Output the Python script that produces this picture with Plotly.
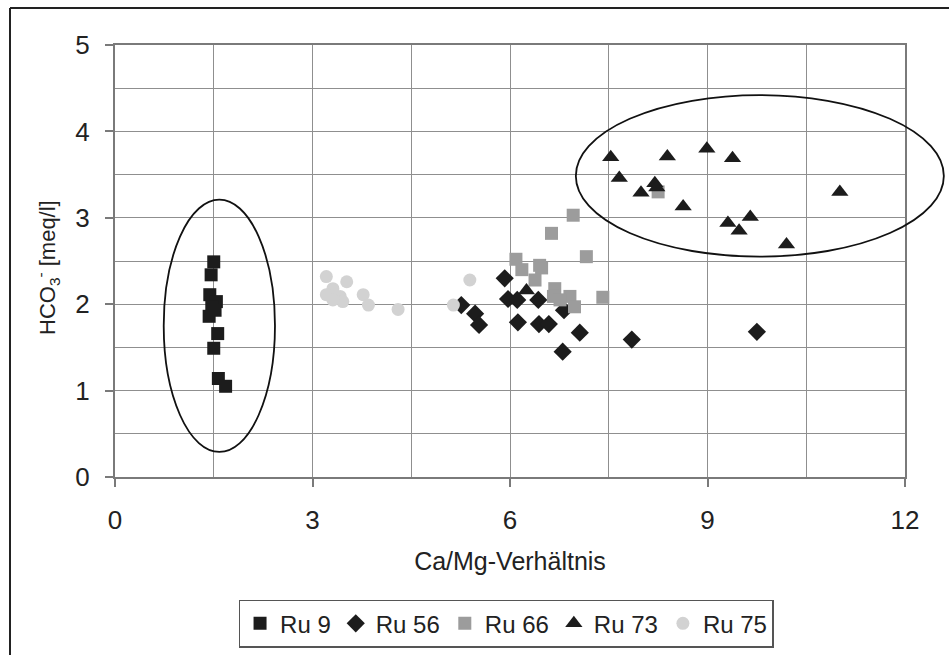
import plotly.graph_objects as go

# ---------------- data ----------------
x_ru9 = [1.50, 1.46, 1.44, 1.54, 1.47, 1.43, 1.52, 1.56, 1.50, 1.57, 1.68]
y_ru9 = [2.49, 2.34, 2.11, 2.03, 1.97, 1.86, 1.93, 1.66, 1.49, 1.14, 1.05]

x_ru56 = [5.92, 5.97, 6.11, 6.43, 5.26, 5.47, 5.53, 6.12, 6.44, 6.59, 6.82, 7.06, 6.80, 7.85, 9.75]
y_ru56 = [2.30, 2.06, 2.05, 2.05, 1.99, 1.89, 1.76, 1.79, 1.77, 1.77, 1.93, 1.67, 1.45, 1.59, 1.68]

x_ru66 = [6.96, 6.63, 7.16, 6.09, 6.18, 6.45, 6.48, 6.38, 6.68, 6.66, 6.91, 6.98, 6.76, 7.41, 8.25]
y_ru66 = [3.03, 2.82, 2.55, 2.52, 2.40, 2.45, 2.42, 2.28, 2.18, 2.09, 2.09, 1.97, 2.05, 2.08, 3.30]

x_ru73 = [7.53, 7.66, 7.99, 8.39, 8.20, 8.23, 8.63, 8.99, 9.38, 9.31, 9.65, 9.48, 10.20, 11.01, 6.25]
y_ru73 = [3.70, 3.46, 3.29, 3.71, 3.40, 3.35, 3.13, 3.80, 3.69, 2.94, 3.01, 2.85, 2.69, 3.30, 2.16]

x_ru75 = [3.21, 3.31, 3.52, 3.42, 3.21, 3.77, 3.85, 4.30, 5.39, 5.14, 3.46, 3.31]
y_ru75 = [2.32, 2.18, 2.26, 2.09, 2.11, 2.11, 1.99, 1.94, 2.28, 1.99, 2.03, 2.05]

series_names = ["Ru 9", "Ru 56", "Ru 66", "Ru 73", "Ru 75"]
x_ticks = [0, 3, 6, 9, 12]
y_ticks = [0, 1, 2, 3, 4, 5]

x_title = "Ca/Mg-Verhältnis"
y_title = "HCO<sub>3</sub><sup>-</sup> [meq/l]"

# ellipse outlines in data units: (x0, x1, y0, y1)
ellipse_left = (0.74, 2.43, 0.29, 3.21)
ellipse_right = (7.00, 12.59, 2.55, 4.42)

X_RANGE = (0, 12)
Y_RANGE = (0, 5)

# ---------------- styles ----------------
FONT = "Liberation Sans, Arial, sans-serif"
TXT = "#222222"
W, H = 949, 655
ML, MR, MT, MB = 115, 44, 45, 178

styles = [
    dict(symbol="square", color="#1c1c1c", size=13),
    dict(symbol="diamond", color="#1c1c1c", size=14),
    dict(symbol="square", color="#9c9c9c", size=13),
    dict(symbol="triangle-up", color="#1c1c1c", size=15),
    dict(symbol="circle", color="#d2d2d2", size=13),
]
xs = [x_ru9, x_ru56, x_ru66, x_ru73, x_ru75]
ys = [y_ru9, y_ru56, y_ru66, y_ru73, y_ru75]

fig = go.Figure()
for name, xv, yv, st in zip(series_names, xs, ys, styles):
    fig.add_trace(go.Scatter(
        x=xv, y=yv, mode="markers", name=name,
        marker=dict(symbol=st["symbol"], color=st["color"], size=st["size"],
                    line=dict(width=0)),
        cliponaxis=False,
    ))


def to_paper(x0, x1, y0, y1):
    return ((x0 - X_RANGE[0]) / (X_RANGE[1] - X_RANGE[0]),
            (x1 - X_RANGE[0]) / (X_RANGE[1] - X_RANGE[0]),
            (y0 - Y_RANGE[0]) / (Y_RANGE[1] - Y_RANGE[0]),
            (y1 - Y_RANGE[0]) / (Y_RANGE[1] - Y_RANGE[0]))


shapes = []
for e in (ellipse_left, ellipse_right):
    px0, px1, py0, py1 = to_paper(*e)
    shapes.append(dict(type="circle", xref="paper", yref="paper",
                       x0=px0, x1=px1, y0=py0, y1=py1,
                       line=dict(color="#111111", width=1.8), layer="above"))

# outer frame of the scanned figure (only left/top edges visible)
pw = W - ML - MR
ph = H - MT - MB
fx0 = (10 - ML) / pw
fx1 = (W + 40 - ML) / pw
fy_top = (H - MB - 8) / ph
fy_bot = (H - MB - (H + 40)) / ph
shapes.append(dict(type="line", xref="paper", yref="paper",
                   x0=fx0, x1=fx0, y0=fy_bot, y1=fy_top,
                   line=dict(color="#222222", width=2), layer="below"))
shapes.append(dict(type="line", xref="paper", yref="paper",
                   x0=fx0, x1=fx1, y0=fy_top, y1=fy_top,
                   line=dict(color="#222222", width=2), layer="below"))

GRID = "#8f8f8f"
AX = "#7a7a7a"

fig.update_layout(
    width=W, height=H,
    margin=dict(l=ML, r=MR, t=MT, b=MB, autoexpand=False),
    paper_bgcolor="white", plot_bgcolor="white",
    font=dict(family=FONT, color=TXT, size=24),
    showlegend=True,
    legend=dict(orientation="h", x=0.495, xanchor="center", y=-0.284, yanchor="top",
                bordercolor="#555555", borderwidth=1.5, bgcolor="white",
                font=dict(size=24, family=FONT, color=TXT),
                itemwidth=30, tracegroupgap=0),
    shapes=shapes,
    annotations=[dict(text=y_title, textangle=-90, xref="paper", yref="paper",
                      x=(47 - ML) / pw, y=(H - MB - 268) / ph,
                      xanchor="center", yanchor="middle", showarrow=False,
                      font=dict(size=22, family=FONT, color=TXT))],
    xaxis=dict(range=list(X_RANGE), tickvals=x_ticks, ticktext=[str(v) for v in x_ticks],
               automargin=False,
               showgrid=True, gridcolor=GRID, gridwidth=1.2,
               minor=dict(dtick=1.5, tick0=0, showgrid=True, gridcolor=GRID, gridwidth=1.2, ticks=""),
               showline=True, linecolor=AX, linewidth=2, mirror=True,
               ticks="outside", ticklen=8, tickcolor=AX, tickwidth=1.5,
               ticklabelstandoff=11,
               tickfont=dict(size=26, family=FONT, color=TXT),
               zeroline=False,
               title=dict(text=x_title, standoff=18,
                          font=dict(size=25, family=FONT, color=TXT))),
    yaxis=dict(range=list(Y_RANGE), tickvals=y_ticks, ticktext=[str(v) for v in y_ticks],
               automargin=False,
               showgrid=True, gridcolor=GRID, gridwidth=1.2,
               minor=dict(dtick=0.5, tick0=0, showgrid=True, gridcolor=GRID, gridwidth=1.2, ticks=""),
               showline=True, linecolor=AX, linewidth=2, mirror=True,
               ticks="outside", ticklen=8, tickcolor=AX, tickwidth=1.5,
               ticklabelstandoff=10,
               tickfont=dict(size=26, family=FONT, color=TXT),
               zeroline=False),
)

fig.write_html("out.html")
